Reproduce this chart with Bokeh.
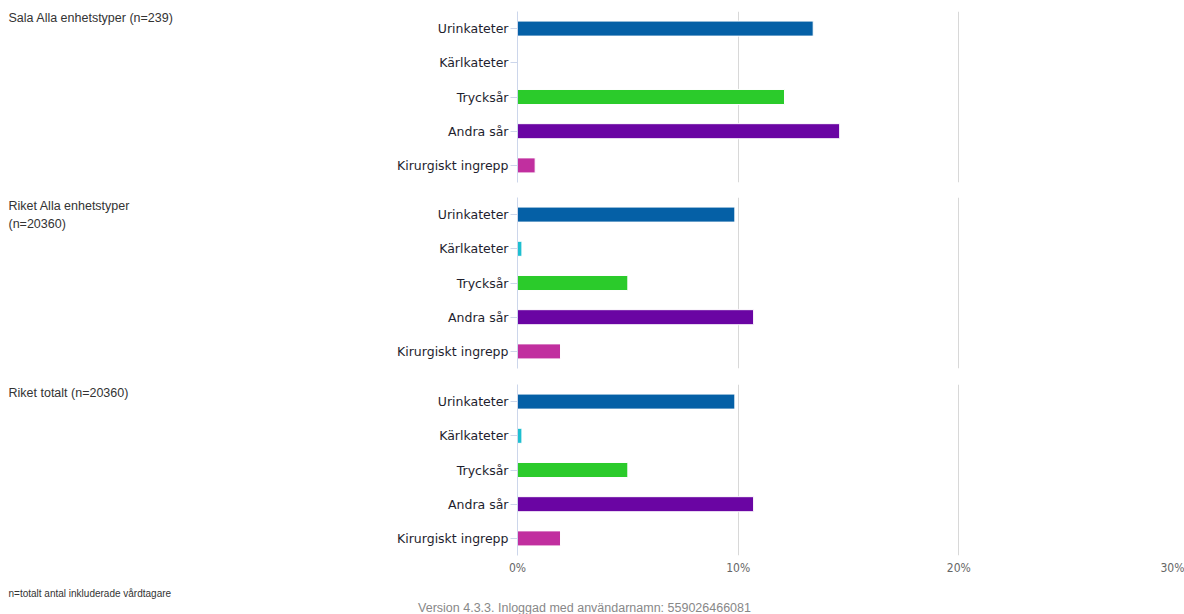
from bokeh.plotting import figure
from bokeh.models import (FactorRange, Range1d, ColumnDataSource, FixedTicker, Grid,
                          PrintfTickFormatter)
from bokeh.core.properties import value
from bokeh.layouts import column, row
from bokeh.embed import file_html
from bokeh.resources import INLINE

categories = ["Urinkateter", "Kärlkateter", "Trycksår", "Andra sår", "Kirurgiskt ingrepp"]
colors = ["#0560a6", "#1ebfd0", "#2bcb2b", "#6a05a3", "#c12f9f"]

panel_titles = ["Sala Alla enhetstyper (n=239)", "Riket Alla enhetstyper\n(n=20360)", "Riket totalt (n=20360)"]
sala_alla = [13.4, 0.0, 12.1, 14.6, 0.8]
riket_alla = [9.85, 0.2, 5.0, 10.7, 1.95]
riket_totalt = [9.85, 0.2, 5.0, 10.7, 1.95]
panel_values = [sala_alla, riket_alla, riket_totalt]

x_ticks = [0, 10, 20, 30]
footnote = "n=totalt antal inkluderade vårdtagare"
version_text = "Version 4.3.3. Inloggad med användarnamn: 559026466081"

x_range = Range1d(0, 30)

TOTAL_W = 1184
TEXT_W = 390
FRAME_W = 662
FRAME_H = 171
LEFT = 127
RIGHT = TOTAL_W - TEXT_W - LEFT - FRAME_W
tops = [11, 7, 8]
bottoms = [8, 8, 25]
title_mid = [17, 15, 16]   # offset of first title line within each panel row
LINE_STEP = 18
BOTTOM_H = 34


def text_panel(w, h, top=0, bottom=0):
    t = figure(frame_width=w, frame_height=h, min_border_left=0, min_border_right=0,
               min_border_top=top, min_border_bottom=bottom,
               x_range=Range1d(0, w), y_range=Range1d(h, 0),
               x_axis_location=None, y_axis_location=None,
               output_backend="svg", toolbar_location=None, tools="")
    t.outline_line_color = None
    t.grid.visible = False
    t.background_fill_color = "white"
    t.border_fill_color = "white"
    return t


rows = []
for i in range(3):
    p = figure(frame_width=FRAME_W, frame_height=FRAME_H,
               min_border_left=LEFT, min_border_right=RIGHT,
               min_border_top=tops[i], min_border_bottom=bottoms[i],
               x_range=x_range, y_range=FactorRange(factors=list(reversed(categories))),
               x_axis_location=("below" if i == 2 else None),
               output_backend="svg", toolbar_location=None, tools="")
    p.outline_line_color = None
    p.background_fill_color = "white"
    p.border_fill_color = "white"
    p.center = [r for r in p.center if not isinstance(r, Grid)]
    p.add_layout(Grid(dimension=0, ticker=FixedTicker(ticks=x_ticks),
                      grid_line_color="#d8d8d8", grid_line_width=1))

    src = ColumnDataSource(dict(cat=categories, val=panel_values[i], color=colors))
    p.hbar(y="cat", left=0, right="val", height=0.44, fill_color="color",
           line_color="white", line_width=1, source=src)

    ya = p.yaxis[0]
    ya.axis_line_color = "#ccd6eb"
    ya.major_tick_line_color = "#ccd6eb"
    ya.major_tick_in = 0
    ya.major_tick_out = 7
    ya.major_label_standoff = 2
    ya.major_label_text_font = "DejaVu Sans"
    ya.major_label_text_font_size = "12.5px"
    ya.major_label_text_color = "#1e1e2e"

    if i == 2:
        xa = p.xaxis[0]
        xa.ticker = FixedTicker(ticks=x_ticks)
        xa.formatter = PrintfTickFormatter(format="%d%%")
        xa.axis_line_color = None
        xa.major_tick_line_color = None
        xa.minor_tick_line_color = None
        xa.major_tick_out = 0
        xa.major_tick_in = 0
        xa.major_label_standoff = 5
        xa.major_label_text_font = "DejaVu Sans Condensed"
        xa.major_label_text_font_size = "12px"
        xa.major_label_text_color = "#666666"

    lines = panel_titles[i].split("\n")
    t = text_panel(TEXT_W, FRAME_H, tops[i], bottoms[i])
    base = title_mid[i] - tops[i]
    t.text(x=[8] * len(lines), y=[base + k * LINE_STEP for k in range(len(lines))],
           text=lines, text_align="left", text_baseline="middle",
           text_font=value("Liberation Sans"), text_font_size="12.5px",
           text_color="#333333")
    rows.append(row(t, p, spacing=0))

b = text_panel(TOTAL_W, BOTTOM_H)
b.text(x=[8], y=[13], text=[footnote], text_align="left", text_baseline="middle",
       text_font=value("Liberation Sans"), text_font_size="10px", text_color="#333333")
b.text(x=[584], y=[27], text=[version_text], text_align="center", text_baseline="middle",
       text_font=value("Liberation Sans"), text_font_size="12.5px", text_color="#888888")

layout = column(*rows, b, spacing=0)
open("out.html", "w").write(file_html(layout, INLINE))
